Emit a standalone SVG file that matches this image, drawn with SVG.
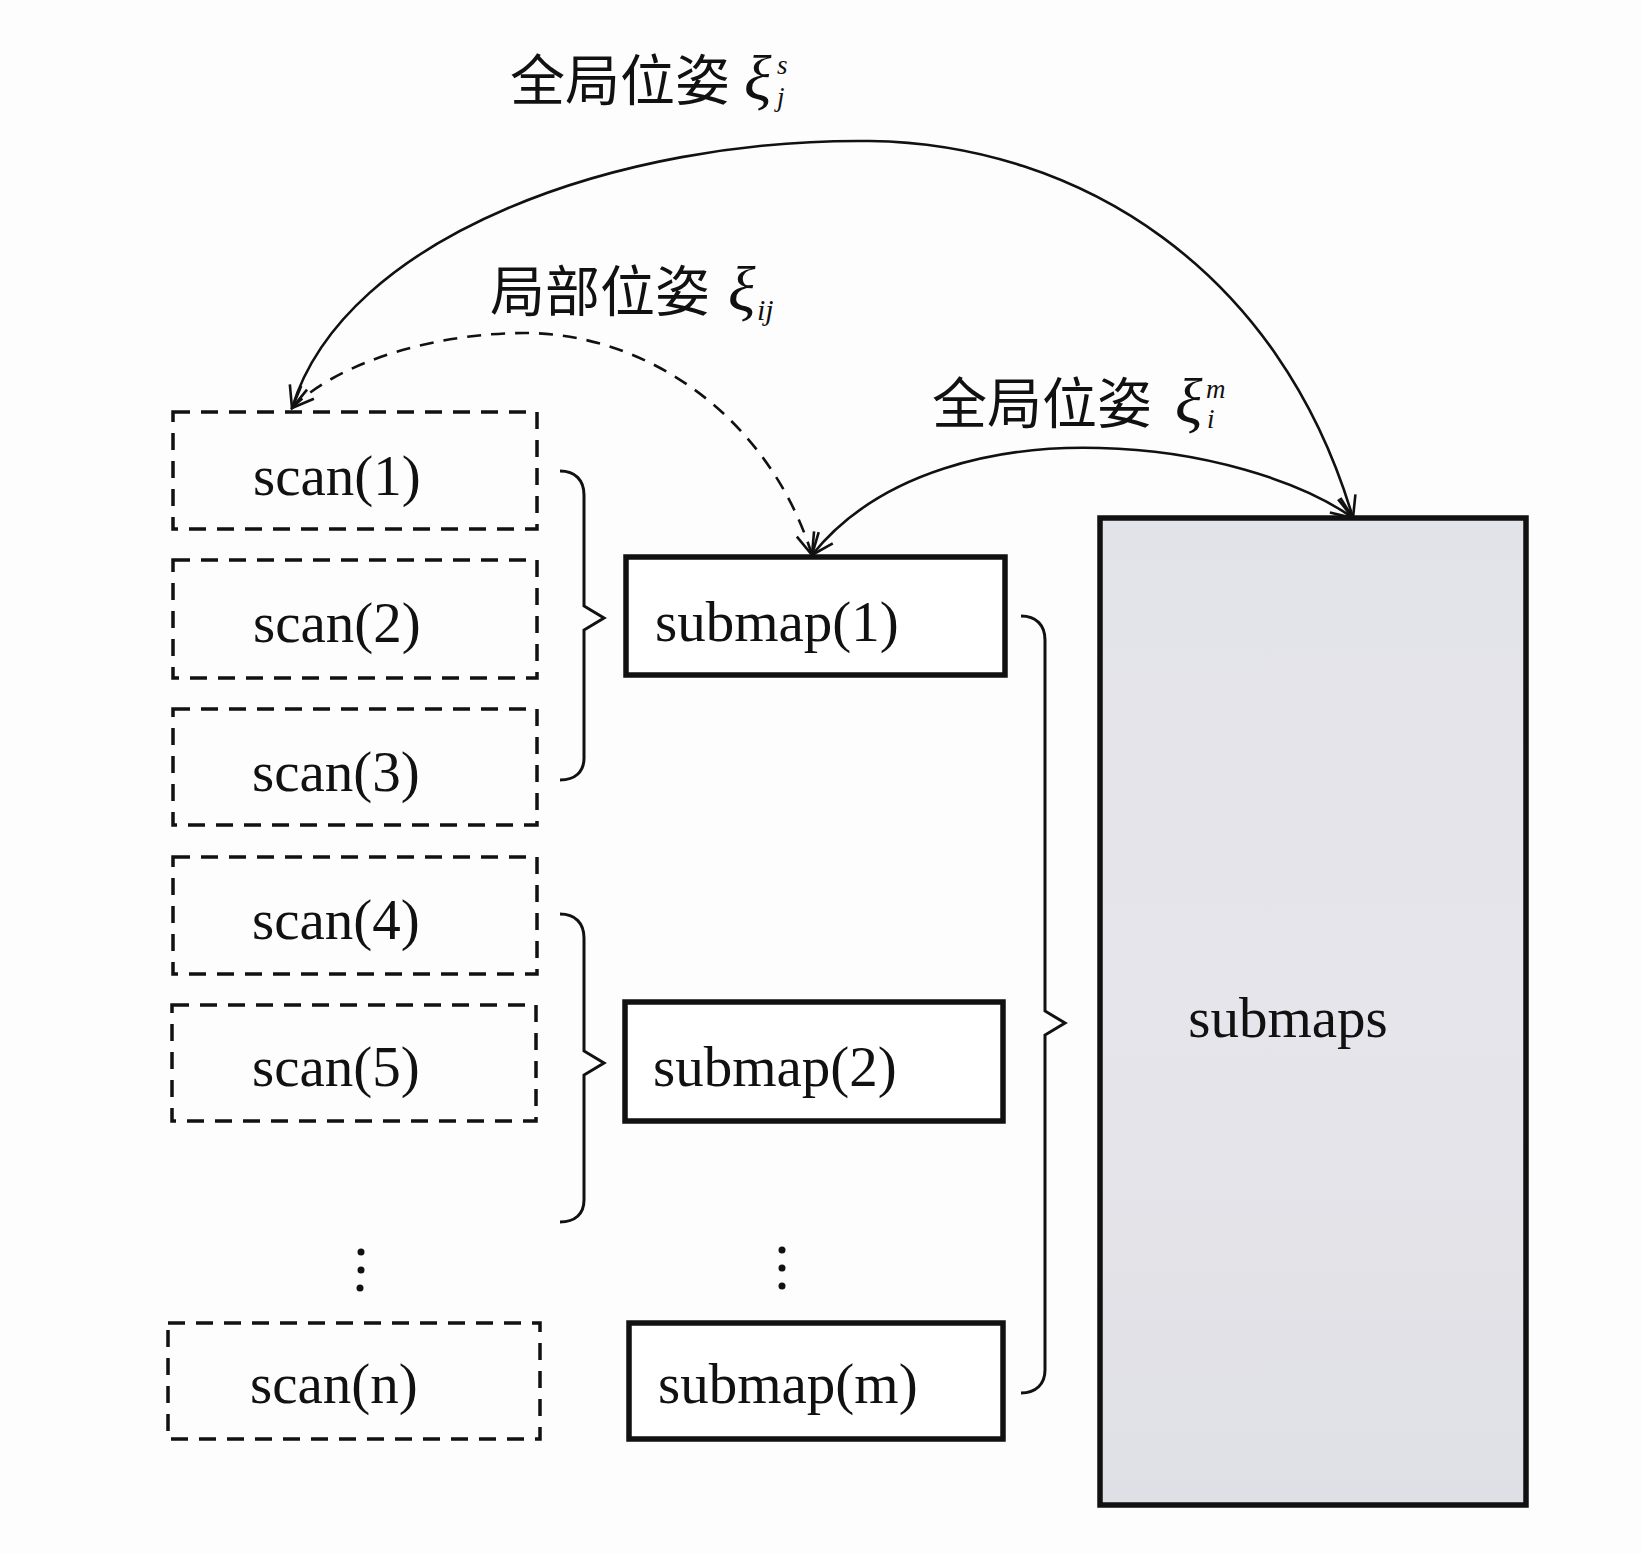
<svg xmlns="http://www.w3.org/2000/svg" width="1642" height="1554" viewBox="0 0 1642 1554">
<style>
.lbl{font-family:"Liberation Serif","Noto Sans CJK SC",serif;font-size:57px;fill:#111}
.cjk{font-family:"Noto Sans CJK SC","Liberation Serif",serif;font-size:55px;fill:#111}
.xi{font-family:"Liberation Serif",serif;font-style:italic;fill:#111}
.scan{fill:none;stroke:#111;stroke-width:3.5;stroke-dasharray:17 11}
.sub{fill:#fff;stroke:#111;stroke-width:5.5}
.brace{fill:none;stroke:#111;stroke-width:3}
.arc{fill:none;stroke:#111;stroke-width:2.6;marker-start:url(#ah);marker-end:url(#ah)}
.dash{stroke-dasharray:14 10}
</style>
<defs>
<marker id="ah" viewBox="0 0 26 22" markerWidth="26" markerHeight="22" refX="24" refY="11" orient="auto-start-reverse" markerUnits="userSpaceOnUse">
<path d="M2,2 L24,11 L2,20" fill="none" stroke="#111" stroke-width="2.6" stroke-dasharray="none"/>
</marker>
<linearGradient id="g" x1="0" y1="0" x2="0" y2="1">
<stop offset="0" stop-color="#e2e3e9"/>
<stop offset="0.5" stop-color="#e6e5eb"/>
<stop offset="1" stop-color="#dfe0e5"/>
</linearGradient>
</defs>
<rect width="1642" height="1554" fill="#fdfdfd"/>

<g id="label-global-s">
<text class="cjk" x="510" y="100">全局位姿</text>
<text class="xi" x="744" y="100" font-size="64">ξ</text>
<text class="xi" x="777" y="74" font-size="27">s</text>
<text class="xi" x="777" y="106" font-size="27">j</text>
</g>
<g id="label-local">
<text class="cjk" x="490" y="311">局部位姿</text>
<text class="xi" x="728" y="311" font-size="64">ξ</text>
<text class="xi" x="757" y="320" font-size="30">ij</text>
</g>
<g id="label-global-m">
<text class="cjk" x="932" y="423">全局位姿</text>
<text class="xi" x="1175" y="423" font-size="64">ξ</text>
<text class="xi" x="1206" y="398" font-size="27">m</text>
<text class="xi" x="1207" y="428" font-size="27">i</text>
</g>

<g id="scan1"><rect class="scan" x="173" y="412" width="364" height="117"/><text class="lbl" x="253" y="495">scan(1)</text></g>
<g id="scan2"><rect class="scan" x="173" y="560" width="364" height="118"/><text class="lbl" x="253" y="642">scan(2)</text></g>
<g id="scan3"><rect class="scan" x="173" y="709" width="364" height="116"/><text class="lbl" x="252" y="791">scan(3)</text></g>
<g id="scan4"><rect class="scan" x="173" y="857" width="364" height="117"/><text class="lbl" x="252" y="939">scan(4)</text></g>
<g id="scan5"><rect class="scan" x="172" y="1005" width="364" height="116"/><text class="lbl" x="252" y="1086">scan(5)</text></g>
<g id="scan-n"><rect class="scan" x="168" y="1323" width="372" height="116"/><text class="lbl" x="250" y="1403">scan(n)</text></g>

<g id="dots-scan" fill="#111"><circle cx="361" cy="1252" r="3.5"/><circle cx="361" cy="1270" r="3.5"/><circle cx="360" cy="1288" r="3.5"/></g>
<g id="dots-submap" fill="#111"><circle cx="782" cy="1250" r="3.5"/><circle cx="782" cy="1268" r="3.5"/><circle cx="782" cy="1286" r="3.5"/></g>

<g id="submap1"><rect class="sub" x="626" y="557" width="379" height="118"/><text class="lbl" x="655" y="641" font-size="58">submap(1)</text></g>
<g id="submap2"><rect class="sub" x="625" y="1002" width="378" height="119"/><text class="lbl" x="653" y="1086" font-size="58">submap(2)</text></g>
<g id="submap-m"><rect class="sub" x="629" y="1323" width="374" height="116"/><text class="lbl" x="658" y="1403" font-size="58">submap(m)</text></g>

<g id="submaps"><rect x="1100" y="518" width="426" height="987" fill="url(#g)" stroke="#111" stroke-width="5.5"/><text class="lbl" x="1288" y="1037" text-anchor="middle">submaps</text></g>

<g id="braces">
<path class="brace" d="M560,471 C575,471 584,480 584,495 L584,606 L604,618 L584,630 L584,758 C584,772 575,780 560,780"/>
<path class="brace" d="M560,914 C575,914 584,923 584,938 L584,1051 L604,1063 L584,1075 L584,1200 C584,1214 575,1222 560,1222"/>
<path class="brace" d="M1021,616 C1036,616 1045,625 1045,640 L1045,1011 L1065,1023 L1045,1035 L1045,1370 C1045,1384 1036,1393 1021,1393"/>
</g>

<g id="connectors">
<path class="arc" d="M292,408 C345,235 620,138 870,141 C1080,144 1280,270 1353,518"/>
<path class="arc dash" d="M292,408 C340,360 440,333 524,333 C650,333 770,420 812,555"/>
<path class="arc" d="M812,555 C880,470 1000,445 1100,448 C1200,450 1300,480 1353,518"/>
</g>
</svg>
